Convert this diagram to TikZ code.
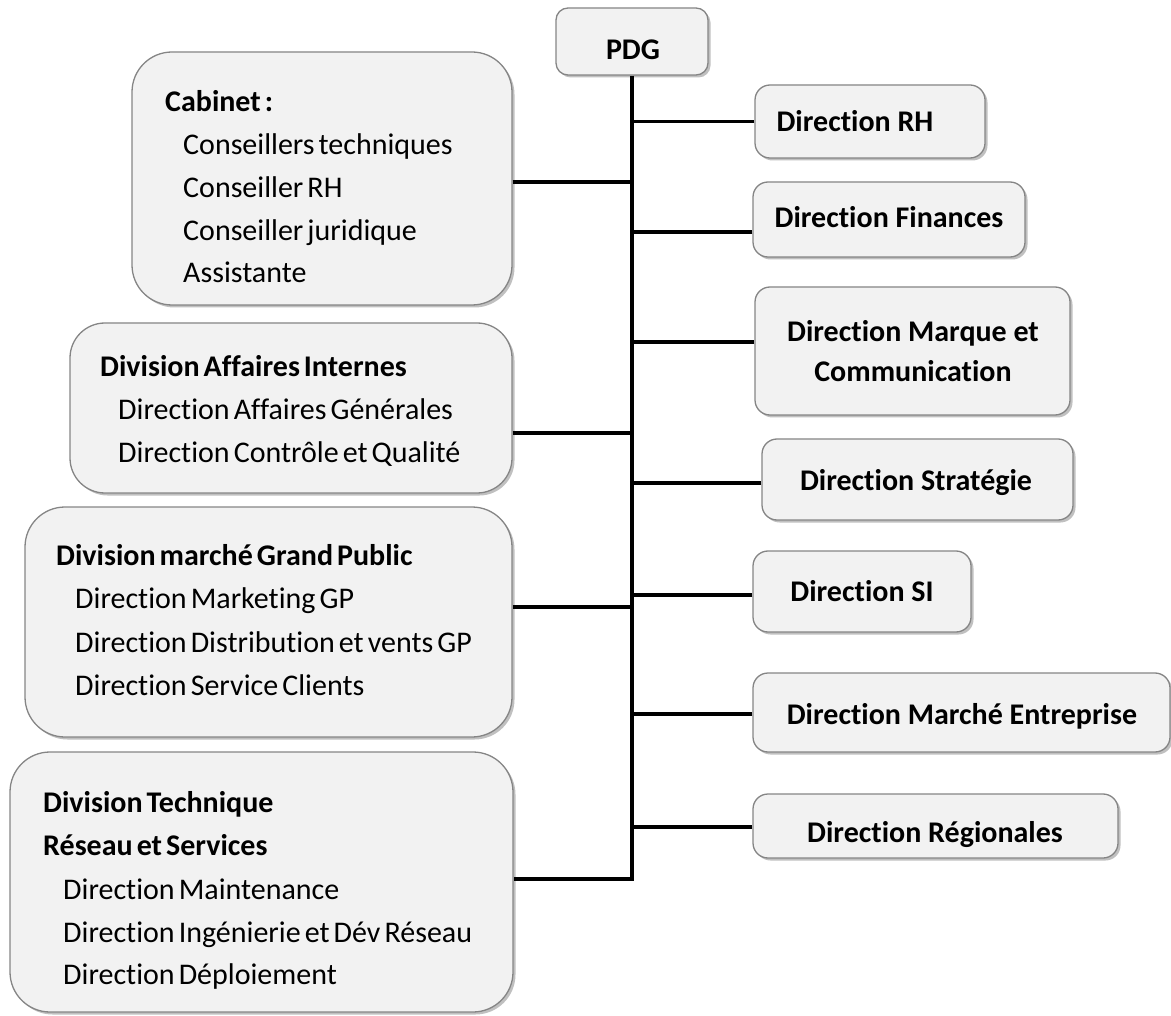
\documentclass[tikz,border=0pt]{standalone}
\usepackage{fontspec}
\setmainfont[Ligatures=NoCommon]{Carlito}
\newfontfamily\tightfont[Ligatures=NoCommon, WordSpace=0.6]{Carlito}
\usetikzlibrary{shadows}
\definecolor{boxfill}{HTML}{F2F2F2}
\definecolor{boxline}{HTML}{858585}
\tikzset{
  unit box/.style={draw=boxline, fill=boxfill, line width=1.3pt, inner sep=0pt,
    drop shadow={shadow xshift=2.5pt, shadow yshift=-2.5pt, opacity=0.45, fill=black!55}},
  smallbox/.style={unit box, rounded corners=15pt},
  bigbox/.style={unit box, rounded corners=40pt},
  conn/.style={line width=3.2pt, black, line join=miter},
  head/.style={anchor=base, inner sep=0pt, font=\fontsize{30}{42}\selectfont\bfseries},
  ltitle/.style={anchor=base west, inner sep=0pt, font=\tightfont\fontsize{30}{42}\selectfont\bfseries},
  litem/.style={anchor=base west, inner sep=0pt, font=\tightfont\fontsize{30}{42}\selectfont},
}
\begin{document}
\begin{tikzpicture}[x=1pt, y=-1pt]
\useasboundingbox (0,0) rectangle (1171,1016);

% chief executive
\node[smallbox, rounded corners=12pt, minimum width=152pt, minimum height=67pt] (pdg) at (632,41.5) {};
\node[head] (pdgT) at (633,59.5) {PDG};

% left column: cabinet and divisions
\node[bigbox, minimum width=380pt, minimum height=253pt] (cab) at (322,178.5) {};
\node[ltitle] (cab0) at (165,112) {Cabinet :};
\node[litem] (cab1) at (183,155) {Conseillers techniques};
\node[litem] (cab2) at (183,198) {Conseiller RH};
\node[litem] (cab3) at (183,241) {Conseiller juridique};
\node[litem] (cab4) at (183,283) {Assistante};

\node[bigbox, rounded corners=35pt, minimum width=442pt, minimum height=170pt] (dai) at (291,408) {};
\node[ltitle] (dai0) at (100,377) {Division Affaires Internes};
\node[litem] (dai1) at (118,420) {Direction Affaires Générales};
\node[litem] (dai2) at (118,463) {Direction Contrôle et Qualité};

\node[bigbox, minimum width=487pt, minimum height=230pt] (dgp) at (268.5,622) {};
\node[ltitle] (dgp0) at (56,565) {Division marché Grand Public};
\node[litem] (dgp1) at (75,608) {Direction Marketing GP};
\node[litem] (dgp2) at (75,652) {Direction Distribution et vents GP};
\node[litem] (dgp3) at (75,695) {Direction Service Clients};

\node[bigbox, minimum width=503pt, minimum height=260pt] (dtr) at (261.5,882) {};
\node[ltitle] (dtr0) at (43,812) {Division Technique};
\node[ltitle] (dtr1) at (43,855) {Réseau et Services};
\node[litem] (dtr2) at (63,899) {Direction Maintenance};
\node[litem] (dtr3) at (63,942) {Direction Ingénierie et Dév Réseau};
\node[litem] (dtr4) at (63,984) {Direction Déploiement};

% right column: directions
\node[smallbox, minimum width=230pt, minimum height=73pt] (drh) at (870,121.5) {};
\node[head] (drhT) at (855,132) {Direction RH};

\node[smallbox, minimum width=272pt, minimum height=75pt] (dfi) at (889,219.5) {};
\node[head] (dfiT) at (889,228) {Direction Finances};

\node[smallbox, minimum width=315pt, minimum height=128pt] (dmc) at (912.5,351) {};
\node[head] (dmcT1) at (913,342) {Direction Marque et};
\node[head] (dmcT2) at (913,382) {Communication};

\node[smallbox, minimum width=311pt, minimum height=81pt] (dst) at (917.5,479.5) {};
\node[head] (dstT) at (916,490) {Direction Stratégie};

\node[smallbox, minimum width=218pt, minimum height=81pt] (dsi) at (862,591.5) {};
\node[head] (dsiT) at (862,601) {Direction SI};

\node[smallbox, minimum width=417pt, minimum height=79pt] (dme) at (961.5,712.5) {};
\node[head] (dmeT) at (962,724) {Direction Marché Entreprise};

\node[smallbox, minimum width=365pt, minimum height=64pt] (dre) at (935.5,826) {};
\node[head] (dreT) at (935,842) {Direction Régionales};

% attachment points on the box sides
\coordinate (cabC) at ([yshift=-3.5pt]cab.east);
\coordinate (daiC) at ([yshift=-25pt]dai.east);
\coordinate (dgpC) at ([yshift=15pt]dgp.east);
\coordinate (dtrC) at ([yshift=3pt]dtr.east);
\coordinate (drhC) at (drh.west);
\coordinate (dfiC) at ([yshift=-12.5pt]dfi.west);
\coordinate (dmcC) at ([yshift=9pt]dmc.west);
\coordinate (dstC) at ([yshift=-3.5pt]dst.west);
\coordinate (dsiC) at ([yshift=-3.5pt]dsi.west);
\coordinate (dmeC) at ([yshift=-1.5pt]dme.west);
\coordinate (dreC) at ([yshift=-1pt]dre.west);

% trunk and branches
\draw[conn] (pdg.south) -- (dtrC -| pdg.south) -- (dtrC);
\foreach \c in {cabC,daiC,dgpC,drhC,dfiC,dmcC,dstC,dsiC,dmeC,dreC}
  \draw[conn] (\c) -- (\c -| pdg.south);
\end{tikzpicture}
\end{document}
